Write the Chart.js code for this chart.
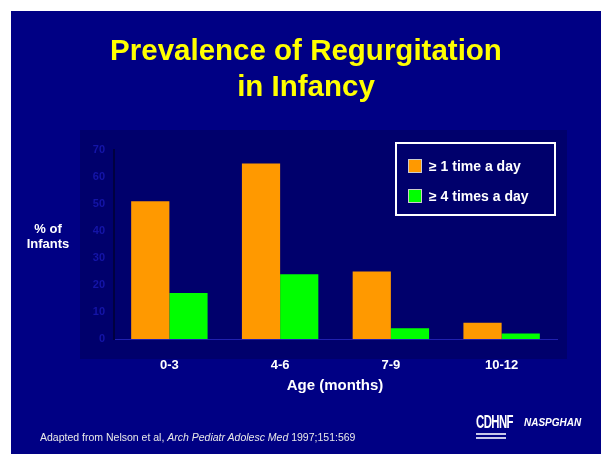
<!DOCTYPE html>
<html>
<head>
<meta charset="utf-8">
<script src="https://cdn.jsdelivr.net/npm/chart.js@4"></script>
<style>
  body { margin: 0; background: #ffffff; width: 601px; height: 454px; overflow: hidden; font-family: "Liberation Sans", Arial, sans-serif; }
  #slide { position: absolute; left: 11px; top: 11px; width: 590px; height: 443px; background: #000084; }
  #chartWrap { position: absolute; left: 0; top: 0; width: 590px; height: 443px; }
  .title { position: absolute; left: 0; width: 590px; text-align: center; color: #ffff00; font-weight: bold; font-size: 29.5px; line-height: 36px; top: 21px; }
  .ylab { position: absolute; left: 2px; width: 70px; top: 210px; text-align: center; color: #fff; font-weight: bold; font-size: 13px; line-height: 15px; }
  .xlab { position: absolute; left: 224px; width: 200px; top: 365px; text-align: center; color: #fff; font-weight: bold; font-size: 15px; }
  .legend { position: absolute; left: 384px; top: 131px; width: 161px; height: 74px; border: 2px solid #ffffff; box-sizing: border-box; }
  .legend .item { position: absolute; left: 11px; color: #fff; font-weight: bold; font-size: 14px; line-height: 15px; }
  .legend .sw { display: inline-block; width: 12px; height: 12px; border: 1px solid #cccccc; vertical-align: -2px; margin-right: 7px; }
  .foot { position: absolute; left: 29px; top: 420px; color: #e8e8e8; font-size: 10.5px; }
  .logo1 { position: absolute; left: 465px; top: 401px; color: #fff; font-weight: bold; font-size: 19px; letter-spacing: -1px; transform: scaleX(0.6); transform-origin: left; line-height: 19px; }
  .logo1 .bar { display: block; height: 2px; width: 50px; background: #c8c8e8; margin-top: 2px; }
  .logo2 { position: absolute; left: 513px; top: 406px; color: #fff; font-weight: bold; font-style: italic; font-size: 10px; }
</style>
</head>
<body>
<div id="slide">
  <div id="chartWrap"><canvas id="chart" width="590" height="443"></canvas></div>
  <div class="title">Prevalence of Regurgitation<br>in Infancy</div>
  <div class="ylab">% of<br>Infants</div>
  <div class="xlab">Age (months)</div>
  <div class="legend" id="legend"></div>
  <div class="foot">Adapted from Nelson et al, <i>Arch Pediatr Adolesc Med</i> 1997;151:569</div>
  <div class="logo1">CDHNF<span class="bar"></span><span class="bar"></span></div>
  <div class="logo2">NASPGHAN</div>
</div>
<script>
const categories = ['0-3', '4-6', '7-9', '10-12'];
const seriesNames = ['\u2265 1 time a day', '\u2265 4 times a day'];
const oncePerDay = [51, 65, 25, 6];
const fourPerDay = [17, 24, 4, 2];
const yTicks = [0, 10, 20, 30, 40, 50, 60, 70];
const colors = ['#ff9900', '#00ff00'];

// caja oscura detrás del gráfico
const plotBox = {
    id: 'plotBox',
    beforeDraw(chart) {
        const a = chart.chartArea;
        const c = chart.ctx;
        c.save();
        c.fillStyle = '#00006c';
        c.fillRect(a.left - 34, a.top - 20, a.right - a.left + 44, a.bottom - a.top + 40);
        c.restore();
    }
};

const ctx = document.getElementById('chart').getContext('2d');
const chart = new Chart(ctx, {
    type: 'bar',
    data: {
        labels: categories,
        datasets: [
            { label: seriesNames[0], data: oncePerDay, backgroundColor: colors[0], borderWidth: 0 },
            { label: seriesNames[1], data: fourPerDay, backgroundColor: colors[1], borderWidth: 0 }
        ]
    },
    options: {
        responsive: false,
        animation: false,
        layout: { padding: { top: 139, right: 44, left: 0, bottom: 0 } },
        plugins: { legend: { display: false }, tooltip: { enabled: false } },
        datasets: { bar: { categoryPercentage: 0.69, barPercentage: 1.0 } },
        scales: {
            x: {
                grid: { display: false, drawTicks: false },
                border: { display: true, color: '#2020b0', width: 1, dash: [2, 2] },
                ticks: { color: '#ffffff', font: { family: 'Liberation Sans', size: 13, weight: 'bold' }, padding: 19 },
                afterFit(scale) { scale.height = 115; }
            },
            y: {
                min: 0,
                max: 70,
                afterBuildTicks(scale) { scale.ticks = yTicks.map(v => ({ value: v })); },
                grid: { display: false, drawTicks: false },
                border: { display: true, color: '#000040', width: 2 },
                ticks: { color: '#1414a8', font: { family: 'Liberation Sans', size: 11, weight: 'bold' }, padding: 9 },
                afterFit(scale) { scale.width = 103; }
            }
        }
    },
    plugins: [plotBox]
});

// leyenda a partir de los datasets
const legend = document.getElementById('legend');
chart.data.datasets.forEach((ds, i) => {
    const item = document.createElement('div');
    item.className = 'item';
    item.style.top = (15 + i * 30) + 'px';
    item.innerHTML = '<span class="sw" style="background:' + ds.backgroundColor + '"></span>' + ds.label;
    legend.appendChild(item);
});
</script>
</body>
</html>
